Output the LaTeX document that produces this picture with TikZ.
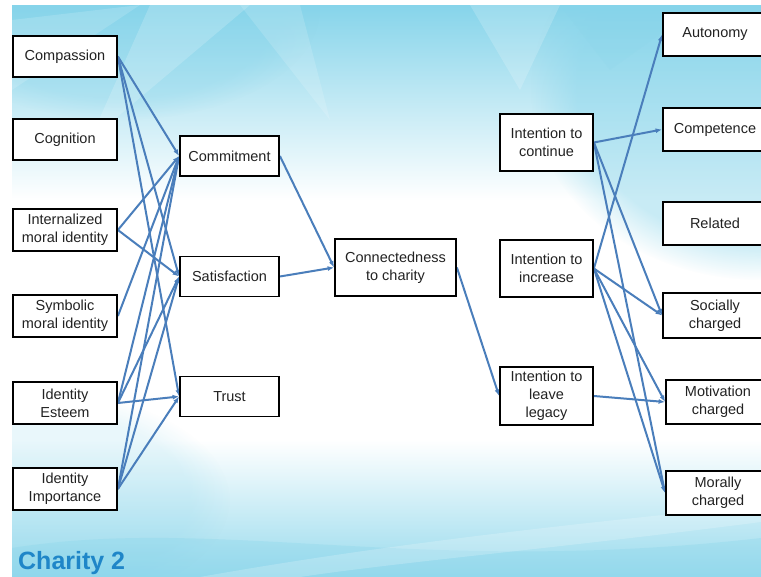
\documentclass[tikz,border=0pt]{standalone}
\usepackage{fontspec}
\setmainfont{Liberation Sans}
\usetikzlibrary{arrows.meta,shadows,fadings}

\definecolor{edgeblue}{HTML}{4A7EBB}
\definecolor{skycyan}{HTML}{86D4EA}
\definecolor{palecyan}{HTML}{C9EEF6}
\definecolor{titleblue}{HTML}{1F86C8}
\definecolor{boxtext}{HTML}{222222}

\pgfdeclarelayer{backdrop}
\pgfdeclarelayer{links}
\pgfsetlayers{backdrop,links,main}

\tikzset{
  box/.style={draw=black, line width=1.8pt, fill=white, align=center,
    inner sep=2pt, text=boxtext,
    font=\fontsize{14.5}{18}\selectfont,
    drop shadow={shadow xshift=1pt, shadow yshift=-1pt, opacity=0.45, fill=black}},
  leftbox/.style={box, minimum width=104pt},
  midbox/.style={box, minimum width=99pt, minimum height=40pt},
  intbox/.style={box, minimum width=93pt, minimum height=57pt},
  rightbox/.style={box, minimum width=104pt, minimum height=43pt},
  link/.style={draw=edgeblue, line width=2pt,
    -{Latex[length=6.5pt,width=5pt]}},
  glow/.style={fill=skycyan, path fading=circle with fuzzy edge 20 percent},
}

\begin{document}
\begin{tikzpicture}[x=1pt,y=-1pt]
\useasboundingbox (0,0) rectangle (761,577);

% ---------- backdrop ----------
\begin{pgfonlayer}{backdrop}
  \fill[white] (0,0) rectangle (761,577);
  % upper sky band
  \shade[top color=skycyan, bottom color=white] (12,5) rectangle (761,200);
  \fill[glow, opacity=0.45] (761,90) ellipse (230pt and 190pt);
  \fill[glow, opacity=0.30] (120,10) ellipse (200pt and 110pt);
  % soft facets across the top
  \fill[white, opacity=0.18] (150,5) -- (250,5) -- (90,140) -- cycle;
  \fill[white, opacity=0.15] (240,5) -- (300,5) -- (330,120) -- cycle;
  \fill[white, opacity=0.18] (470,5) -- (560,5) -- (520,90) -- cycle;
  \fill[skycyan, opacity=0.15] (560,5) -- (700,5) -- (610,70) -- cycle;
  \fill[white, opacity=0.15] (12,20) -- (140,5) -- (12,90) -- cycle;
  % lower sky band and waves
  \shade[top color=white, bottom color=skycyan!85] (12,440) rectangle (761,577);
  \fill[glow, opacity=0.18] (30,500) ellipse (200pt and 110pt);
  \fill[skycyan, opacity=0.30]
    (12,548) .. controls (220,515) and (420,577) .. (761,538)
    -- (761,577) -- (12,577) -- cycle;
  \fill[white, opacity=0.20]
    (200,577) .. controls (380,545) and (560,525) .. (761,505)
    -- (761,522) .. controls (560,548) and (400,562) .. (300,577) -- cycle;
  % white margin round the slide
  \fill[white] (0,0) rectangle (12,577);
  \fill[white] (0,0) rectangle (761,5);
\end{pgfonlayer}

% ---------- left column ----------
\node[leftbox, minimum height=41pt] (compassion) at (65,56.5) {Compassion};
\node[leftbox, minimum height=41pt] (cognition) at (65,139.5) {Cognition};
\node[leftbox, minimum height=42pt] (internal) at (65,230) {Internalized\\moral identity};
\node[leftbox, minimum height=42pt] (symbolic) at (65,316) {Symbolic\\moral identity};
\node[leftbox, minimum height=42pt] (esteem) at (65,403) {Identity\\Esteem};
\node[leftbox, minimum height=42pt] (importance) at (65,489) {Identity\\Importance};

% ---------- mediators ----------
\node[midbox] (commitment) at (229.5,156) {Commitment};
\node[midbox] (satisfaction) at (229.5,276.5) {Satisfaction};
\node[midbox] (trust) at (229.5,396.5) {Trust};

\node[box, minimum width=121pt, minimum height=57pt] (connected) at (395.5,267.5)
  {Connectedness\\to charity};

% ---------- intentions ----------
\node[intbox] (continue) at (546.5,142.5) {Intention to\\continue};
\node[intbox] (increase) at (546.5,268.5) {Intention to\\increase};
\node[intbox, minimum height=58pt] (legacy) at (546.5,396) {Intention to\\leave\\legacy};

% ---------- outcomes ----------
\node[rightbox] (autonomy) at (715,34.5) {Autonomy};
\node[rightbox] (competence) at (715,129.5) {Competence};
\node[rightbox] (related) at (715,223.5) {Related};
\node[rightbox, minimum height=45pt] (social) at (715,315.5) {Socially\\charged};
\node[rightbox, minimum height=44pt] (motivation) at (718,402) {Motivation\\charged};
\node[rightbox, minimum height=44pt] (moral) at (718,493) {Morally\\charged};

% ---------- title ----------
\node[anchor=base west, inner sep=0pt, text=titleblue,
  font=\fontsize{25}{30}\selectfont\bfseries] (title) at (18,569) {Charity 2};

% ---------- connectors ----------
\begin{pgfonlayer}{links}
  \foreach \s/\t in {compassion/commitment, compassion/satisfaction, compassion/trust,
      internal/commitment, internal/satisfaction,
      symbolic/commitment,
      esteem/commitment, esteem/satisfaction, esteem/trust,
      importance/commitment, importance/satisfaction, importance/trust,
      commitment/connected, satisfaction/connected,
      connected/legacy,
      continue/competence, continue/social, continue/moral,
      increase/autonomy, increase/social, increase/motivation, increase/moral,
      legacy/motivation}
    \draw[link] (\s.east) -- (\t.west);
\end{pgfonlayer}
\end{tikzpicture}
\end{document}
